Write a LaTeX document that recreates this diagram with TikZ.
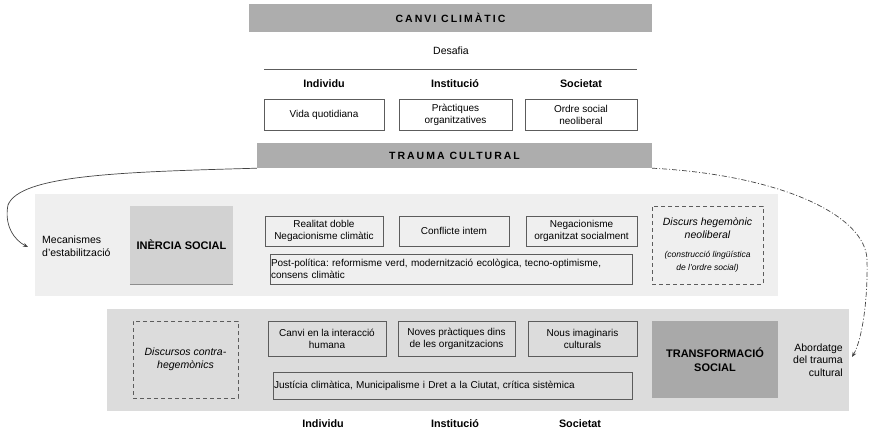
\documentclass[tikz,border=0pt]{standalone}
\usepackage{fontspec}
\setmainfont{Liberation Sans}
\usetikzlibrary{arrows.meta}
\definecolor{bargray}{HTML}{ADADAD}
\definecolor{panellight}{HTML}{EFEFEF}
\definecolor{paneldark}{HTML}{DCDCDC}
\definecolor{inerciagray}{HTML}{D2D2D2}
\definecolor{transfgray}{HTML}{A9A9A9}
\definecolor{boxline}{HTML}{5C5C5C}
\definecolor{curvegray}{HTML}{444444}
\newcommand{\smallnote}{\fontsize{8.5}{10.5}\selectfont}
\frenchspacing
\begin{document}
\begin{tikzpicture}
[x=1pt,y=-1pt,
  bardecorate/.style={fill=bargray,inner sep=0pt,%
    font=\bfseries\fontsize{10.5}{11}\selectfont\addfontfeature{LetterSpace=19}},%
  paneldecorate/.style={inner sep=0pt},%
  boxdecorate/.style={draw=boxline,line width=0.6pt,align=center,inner sep=1pt,%
    font=\fontsize{10}{12}\selectfont},%
  dashdecorate/.style={draw=boxline,line width=0.6pt,dash pattern=on 4pt off 3pt,%
    align=center,inner sep=1pt,font=\itshape\fontsize{10.5}{12.5}\selectfont},%
  headdecorate/.style={font=\bfseries\fontsize{10.8}{12}\selectfont},%
  textdecorate/.style={font=\fontsize{10.5}{12.5}\selectfont},%
  keydecorate/.style={align=center,inner sep=0pt,font=\bfseries\fontsize{11}{14}\selectfont},%
  linedecorate/.style={-{Stealth[length=5pt,width=4pt]},line width=0.7pt}]
\useasboundingbox (0,0) rectangle (869,433);
%% panels
\node (inerciapanel) at (406.5,245) [paneldecorate,fill=panellight,minimum width=743pt,minimum height=102pt] {};
\node (transfpanel) at (478,360) [paneldecorate,fill=paneldark,minimum width=742pt,minimum height=102pt] {};
%% bars
\node (canvi) at (450.5,18) [bardecorate,minimum width=403pt,minimum height=28pt] {CANVI CLIMÀTIC};
\node (trauma) at (454.5,155.5) [bardecorate,minimum width=395pt,minimum height=25pt] {TRAUMA CULTURAL};
\node (desafia) at (451,51) [textdecorate] {Desafia};
\coordinate (lineleft) at (264,69);
\coordinate (lineright) at (637,69);
\draw[boxline,line width=0.8pt] (lineleft) -- (lineright);
%% headers, top and bottom
\foreach \nodename/\x/\y/\txt in {indtop/324/84/Individu, insttop/455/84/Institució,
  soctop/581/84/Societat, indbot/323/424/Individu, instbot/455/424/Institució,
  socbot/580/424/Societat} {
  \node (\nodename) at (\x,\y) [headdecorate] {\txt};
}
%% boxes
\foreach \nodename/\x/\y/\w/\h/\txt in {vida/324/114.5/120/31/{Vida quotidiana},
  practiques/455.5/114.5/113/31/{Pràctiques\\organitzatives},
  ordre/581/114.5/112/31/{Ordre social\\neoliberal},
  realitat/324/231/118/30/{Realitat doble\\Negacionisme climàtic},
  conflicte/454/231/110/30/{Conflicte intem},
  negacionisme/581.5/231/111/30/{Negacionisme\\organitzat socialment},
  canviint/327/338.5/118/35/{Canvi en la interacció\\humana},
  noves/456.5/338.5/117/35/{Noves pràctiques dins\\de les organitzacions},
  nous/582.5/338.5/109/35/{Nous imaginaris\\culturals}} {
  \node (\nodename) at (\x,\y) [boxdecorate,minimum width=\w pt,minimum height=\h pt] {\txt};
}
\foreach \nodename/\x/\y/\w/\h/\txt in {postpolitica/451/269/372/30/{Post-política: reformisme verd, modernització ecològica, tecno-optimisme,\\consens climàtic},
  justicia/452.5/385.5/369/27/{Justícia climàtica, Municipalisme i Dret a la Ciutat, crítica sistèmica}} {
  \node (\nodename) at (\x,\y) [boxdecorate,align=left,text width=\w pt-12pt,minimum height=\h pt] {\txt};
}
%% key boxes
\node (inercia) at (181.5,245) [keydecorate,fill=inerciagray,minimum width=103pt,minimum height=78pt] {INÈRCIA SOCIAL};
\draw[boxline!70,line width=1pt] (inercia.south west) -- (inercia.south east);
\node (transf) at (715,359.5) [keydecorate,fill=transfgray,minimum width=126pt,minimum height=77pt] {TRANSFORMACIÓ\\SOCIAL};
\node (discurs) at (707.5,245) [dashdecorate,minimum width=111pt,minimum height=78pt] {Discurs hegemònic\\neoliberal\\[7pt]\smallnote (construcció lingüística\\\smallnote de l'ordre social)};
\node (contra) at (185.5,359.5) [dashdecorate,minimum width=105pt,minimum height=77pt] {Discursos contra-\\hegemònics};
%% side texts
\node (mecanismes) at (42,246) [textdecorate,anchor=west,align=left,inner sep=0pt] {Mecanismes\\d'estabilització};
\node (abordatge) at (843,360) [textdecorate,anchor=east,align=right,inner sep=0pt] {Abordatge\\del trauma\\cultural};
%% curved connectors
\coordinate (mectip) at (28,247);
\coordinate (abotip) at (852,357);
\draw[linedecorate,curvegray] (trauma.south west) .. controls (120,172) and (20,175) .. (8,205)
  .. controls (4,225) and (14,240) .. (mectip);
\draw[linedecorate,curvegray,dash pattern=on 5pt off 2pt on 1pt off 2pt] (trauma.south east)
  .. controls (780,175) and (866,215) .. (867,260) .. controls (868,300) and (862,340) .. (abotip);
\end{tikzpicture}
\end{document}
